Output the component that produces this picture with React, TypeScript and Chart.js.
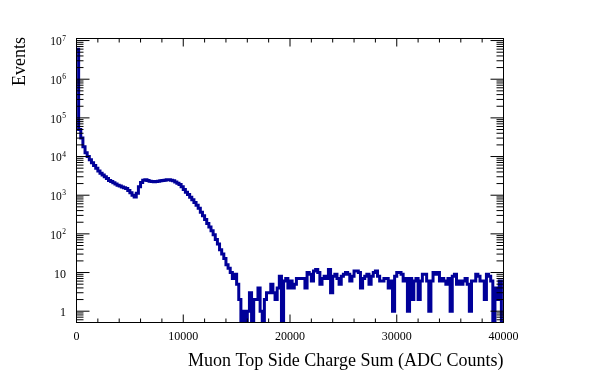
import React, { useEffect, useRef } from "react";
import { Chart, registerables } from "chart.js";

Chart.register(...registerables);

// ---- data ----
const binWidth = 200;
const xMin = 0;
const xMax = 40000;
const yMin = 0.51;
const yMax = 1.13e7;

// bins 0..49 (0 - 10000)
const countsLow = [
  6000000, 50000, 30000, 18000, 12600, 10000, 8300, 6900, 5900, 5000,
  4250, 3700, 3350, 3000, 2700, 2400, 2250, 2100, 1950, 1820,
  1740, 1640, 1550, 1480, 1320, 1150, 1000, 900, 1120, 1660,
  2140, 2450, 2500, 2400, 2300, 2250, 2230, 2250, 2300, 2350,
  2400, 2450, 2500, 2520, 2450, 2350, 2200, 2050, 1900, 1650,
];
// bins 50..99 (10000 - 20000)
const countsFall = [
  1400, 1200, 1050, 890, 760, 650, 550, 460, 360, 295,
  235, 185, 150, 120, 95, 72, 55, 39, 30, 23,
  16, 13, 10, 7, 9, 5, 2, 0, 1, 0,
  1, 3, 0, 2, 2, 4, 1, 0, 2, 3,
  3, 5, 3, 2, 4, 8, 0, 6, 7, 4,
];
// bins 100..149 (20000 - 30000)
const countsTailA = [
  6, 4, 5, 7, 7, 7, 7, 4, 10, 9,
  6, 11, 12, 10, 5, 7, 8, 7, 12, 3,
  8, 9, 7, 5, 8, 9, 10, 9, 6, 8,
  11, 11, 10, 4, 7, 8, 9, 5, 8, 10,
  11, 8, 6, 6, 7, 7, 4, 6, 1, 8,
];
// bins 150..199 (30000 - 40000)
const countsTailB = [
  10, 10, 9, 6, 7, 1, 7, 2, 6, 7,
  2, 6, 9, 9, 6, 1, 6, 10, 9, 10,
  6, 7, 6, 5, 7, 1, 8, 9, 5, 6,
  5, 6, 7, 5, 1, 6, 6, 9, 8, 6,
  6, 2, 9, 8, 6, 0, 4, 2, 6, 0,
];

const counts = [...countsLow, ...countsFall, ...countsTailA, ...countsTailB];

const xMajorTicks = [0, 10000, 20000, 30000, 40000];
const xTickLabels = ["0", "10000", "20000", "30000", "40000"];
const xMinorStep = 2000;
const yDecades = [0, 1, 2, 3, 4, 5, 6, 7];
const xTitle = "Muon Top Side Charge Sum (ADC Counts)";
const yTitle = "Events";

const lineColor = "#000099";
const serif = '"Liberation Serif", "Times New Roman", serif';

const rootFrame = {
  id: "rootFrame",
  afterDatasetsDraw(chart: any) {
    const { ctx, chartArea, scales } = chart;
    const { left, right, top, bottom } = chartArea;
    const xs = scales.x;
    const ys = scales.y;
    ctx.save();
    ctx.strokeStyle = "#000";
    ctx.lineWidth = 1;
    ctx.strokeRect(left, top, right - left, bottom - top);

    ctx.beginPath();
    for (let v = xMin; v <= xMax; v += xMinorStep) {
      const px = xs.getPixelForValue(v);
      const len = v % 10000 === 0 ? 8 : 4;
      ctx.moveTo(px, bottom);
      ctx.lineTo(px, bottom - len);
      ctx.moveTo(px, top);
      ctx.lineTo(px, top + len);
    }
    for (let k = -1; k <= 7; k++) {
      for (let m = 1; m <= 9; m++) {
        const val = m * Math.pow(10, k);
        if (val < yMin || val > yMax) continue;
        const py = ys.getPixelForValue(val);
        const len = m === 1 ? 13 : 7;
        ctx.moveTo(left, py);
        ctx.lineTo(left + len, py);
        ctx.moveTo(right, py);
        ctx.lineTo(right - len, py);
      }
    }
    ctx.stroke();

    ctx.fillStyle = "#000";
    ctx.font = `12px ${serif}`;
    ctx.textAlign = "center";
    ctx.textBaseline = "alphabetic";
    xMajorTicks.forEach((v, i) => {
      ctx.fillText(xTickLabels[i], xs.getPixelForValue(v), bottom + 17);
    });

    const labelRight = left - 10.5;
    yDecades.forEach((k) => {
      const py = ys.getPixelForValue(Math.pow(10, k));
      if (k <= 1) {
        ctx.font = `12px ${serif}`;
        ctx.textAlign = "right";
        ctx.fillText(k === 0 ? "1" : "10", labelRight, py + 5);
      } else {
        ctx.font = `7.5px ${serif}`;
        ctx.textAlign = "right";
        const expStr = String(k);
        const ew = ctx.measureText(expStr).width;
        ctx.fillText(expStr, labelRight, py);
        ctx.font = `11.5px ${serif}`;
        ctx.fillText("10", labelRight - ew - 0.5, py + 4.8);
      }
    });

    ctx.font = `18px ${serif}`;
    ctx.textAlign = "right";
    ctx.fillText(xTitle, right, 366);

    ctx.translate(25, top - 1.5);
    ctx.rotate(-Math.PI / 2);
    ctx.textAlign = "right";
    ctx.fillText(yTitle, 0, 0);
    ctx.restore();
  },
};

export default function App() {
  const canvasRef = useRef<HTMLCanvasElement | null>(null);

  useEffect(() => {
    const canvas = canvasRef.current;
    if (!canvas) return;
    // empty bins are drawn down to the bottom of the frame, as ROOT does on a log axis
    const points = counts.map((c, i) => ({ x: xMin + i * binWidth, y: c > 0 ? c : yMin }));
    points.push({ x: xMax, y: points[points.length - 1].y });

    const chart = new Chart(canvas, {
      type: "line",
      data: {
        datasets: [
          {
            data: points,
            borderColor: lineColor,
            borderWidth: 3,
            pointRadius: 0,
            fill: false,
            stepped: "before",
            tension: 0,
          },
        ],
      },
      options: {
        responsive: false,
        maintainAspectRatio: false,
        devicePixelRatio: 1,
        animation: false,
        events: [],
        layout: { padding: { left: 76.5, right: 89.5, top: 38.5, bottom: 61.5 } },
        plugins: { legend: { display: false }, tooltip: { enabled: false } },
        scales: {
          x: { type: "linear", min: xMin, max: xMax, display: false },
          y: { type: "logarithmic", min: yMin, max: yMax, display: false },
        },
      },
      plugins: [rootFrame],
    });
    return () => chart.destroy();
  }, []);

  return (
    <div style={{ position: "fixed", left: 0, top: 0, width: 593, height: 384, background: "#fff" }}>
      <canvas ref={canvasRef} width={593} height={384} style={{ display: "block" }} />
    </div>
  );
}
